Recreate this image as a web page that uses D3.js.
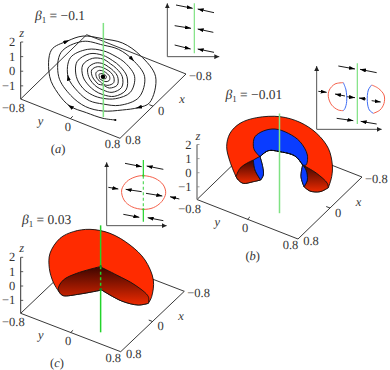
<!DOCTYPE html>
<html>
<head>
<meta charset="utf-8">
<script src="https://cdnjs.cloudflare.com/ajax/libs/d3/7.8.5/d3.min.js"></script>
<style>
  html, body { margin: 0; background: #fff; }
  svg { display: block; }
  svg text { font-family: "Liberation Serif", serif; font-size: 12.5px; fill: #333; text-rendering: geometricPrecision; }
  svg text .it, svg text.it { font-style: italic; }
</style>
</head>
<body>
<svg width="390" height="370"></svg>
<script>
// axis labels
const zTicks = [2, 1, 0, -1];
const edgeTicks = [-0.8, 0, 0.8];

// the three panels: floor corners in pixels, z range, title
const panels = [
    { title: "0.1", negative: true, tag: "a", left: [20.7, 99], bottom: [120, 138.3], right: [186, 74],
      zFloor: -1.9, zHeight: 57, axisColor: "#333", axisWidth: 1, titleAt: [35, 20], tagAt: [58, 153] },
    { title: "0.01", negative: true, tag: "b", left: [197, 199.5], bottom: [298, 239], right: [362, 177],
      zFloor: -1.9, zHeight: 55, axisColor: "#888", axisWidth: 1.5, titleAt: [225.5, 99], tagAt: [252.7, 260] },
    { title: "0.03", negative: false, tag: "c", left: [20.7, 313.3], bottom: [120.7, 351.7], right: [184.3, 291.3],
      zFloor: -1.9, zHeight: 56, axisColor: "#333", axisWidth: 1, titleAt: [22, 224], tagAt: [57, 367] }
];

// spiral of panel a, relative to its centre
const spiral = [
    [37,-130],[0,-125],[-50,-108],[-100,-88],[-135,-50],[-160,0],[-155,80],[-107,107],[-60,122],[0,114],
    [59,101],[112,64],[158,0],[140,-78],[105,-93],[58,-100],[0,-103],[-52,-90],[-97,-56],[-133,0],
    [-126,73],[-61,106],[0,95],[47,82],[89,51],[125,0],[108,-62],[50,-86],[0,-82],[-41,-72],[-76,-44],[-105,0],
    [-98,57],[-47,82],[0,78],[36,62],[68,40],[95,0],[82,-47],[38,-66],[0,-65],[-32,-55],[-60,-35],[-80,0],
    [-78,45],[-40,69],[0,64],[28,49],[52,30],[72,0],[69,-40],[34,-59],[0,-54],[-25,-42],[-44,-25],[-60,0],
    [-61,35],[-32,55],[0,53],[22,39],[41,24],[58,0],[56,-32],[27,-47],[0,-40],[-18,-31],[-32,-18],[-43,0],
    [-45,26],[-23,41],[0,39],[17,29],[31,18],[44,0],[43,-25],[19,-34],[0,-25],[-13,-23],[-23,-13],[-32,0],
    [-34,20],[-17,30],[0,27],[12,21],[23,13],[32,0],[32,-18],[15,-26],[0,-22],[-8,-15],[-15,-9],[-20,0],
    [-21,12],[-11,19],[0,17],[8,13],[14,8],[20,0],[19,-11],[9,-15],[0,-12],[-6,-9],[-10,-6],[-11,0],
    [-12,7],[0,9],[8,4],[10,0],[8,-6],[0,-5],[-5,0],[0,3],[3,0],[0,0]
];
const spiralArrows = [3, 7, 14, 24, 31];

// surface outlines of panel b
const bOuter = [[48,215],[30,170],[20,125],[30,85],[60,55],[110,38],[180,35],[240,52],[290,85],[325,130],[337,180],[335,215],[325,248]];
const bRightFoot = [[325,248],[300,260],[270,258],[252,245]];
const bRightInner = [[252,245],[243,215],[248,180]];
const bArch = [[248,180],[225,153],[180,140],[145,137],[120,155]];
const bLeftInner = [[120,155],[128,185],[130,210],[122,225]];
const bLeftFoot = [[122,225],[100,230],[70,235],[55,225],[48,215]];
const bBlueTop = [[120,155],[103,135],[100,115],[105,95],[130,78],[165,72],[205,85],[240,110],[262,150],[258,180],[248,180]];
const bLeftCapTop = [[48,215],[60,190],[80,175],[100,165]];
const bLeftCapSide = [[100,165],[105,195],[122,225]];
const bRightCapTop = [[248,180],[290,205],[322,235],[325,248]];
const bRightCapSide = [[252,245],[262,225],[258,195],[248,180]];
const bLeftBlueTop = [[100,165],[118,155]];

// surface outlines of panel c
const cOuter = [[60,205],[40,172],[28,130],[30,85],[60,40],[100,20],[150,13],[210,25],[270,60],[315,105],[340,165],[335,215],[325,235]];
const cFoot = [[325,235],[295,240],[245,228],[185,195]];
const cFootLeft = [[185,195],[120,207],[70,212],[60,205]];
const cCapLeft = [[60,205],[55,190],[70,165],[110,145],[180,125]];
const cCapRight = [[180,125],[230,150],[285,180],[325,215],[325,235]];

// phase portrait insets: arrows as from x, from y, to x, to y
const insetAArrows = [[48,15,98,25],[44,77,93,85],[44,135,92,147],[162,38,113,27],[160,97,113,87],[162,157,113,147]];
const insetBArrows = [[85,18,135,27],[200,38,150,28],[25,94,50,97],[110,110,135,113],[105,108,75,102],[168,117,147,114],[185,122,212,126],[80,175,130,182],[200,192,152,184]];
const insetCArrows = [[75,25,125,35],[190,43,140,33],[25,97,55,102],[125,110,77,103],[138,115,187,123],[238,132,210,125],[70,178,118,187],[190,197,143,188]];
const insetBLeftRed = [[100,68],[75,72],[58,90],[55,110],[65,135],[85,150],[100,152]];
const insetBLeftBlue = [[100,68],[108,90],[110,125],[105,145],[100,152]];
const insetBRightBlue = [[185,75],[175,90],[172,125],[178,150],[190,160]];
const insetBRightRed = [[185,75],[205,85],[222,105],[222,130],[210,150],[190,160]];
const insetCRed = [[130,62],[165,70],[190,90],[197,115],[185,140],[160,158],[130,163],[95,155],[72,135],[65,105],[80,80],[105,66]];

const svg = d3.select("svg");
const defs = svg.append("defs");

const red = "#ff2b00";
const blue = "#0a3cff";
const paleGreen = "#7fe283";
const strongGreen = "#22d32a";

function arrowMarker(id, color, w, h) {
    defs.append("marker")
        .attr("id", id)
        .attr("markerUnits", "userSpaceOnUse")
        .attr("markerWidth", w).attr("markerHeight", h)
        .attr("refX", w).attr("refY", h / 2)
        .attr("orient", "auto-start-reverse")
        .append("path")
        .attr("d", `M0,0L${w},${h / 2}L0,${h}Z`)
        .attr("fill", color);
}
arrowMarker("head", "#000", 6, 4);
arrowMarker("axisHead", "#222", 5, 5);

const capGradient = defs.append("linearGradient")
    .attr("id", "cap").attr("x1", 0).attr("y1", 0).attr("x2", 0).attr("y2", 1);
capGradient.append("stop").attr("offset", 0).attr("stop-color", "#3d0500");
capGradient.append("stop").attr("offset", 1).attr("stop-color", "#ee2a00");

// floor projection for one panel, built from plain linear scales
function makeProjection(p) {
    const ext = [-0.8, 0.8];
    const xH = d3.scaleLinear().domain(ext).range([p.right[0] - p.bottom[0], 0]);
    const xV = d3.scaleLinear().domain(ext).range([p.right[1] - p.bottom[1], 0]);
    const yH = d3.scaleLinear().domain(ext).range([p.left[0] - p.bottom[0], 0]);
    const yV = d3.scaleLinear().domain(ext).range([p.left[1] - p.bottom[1], 0]);
    const zV = d3.scaleLinear().domain([p.zFloor, 2]).range([0, -p.zHeight]);
    return (x, y, z) => [p.bottom[0] + xH(x) + yH(y), p.bottom[1] + xV(x) + yV(y) + zV(z)];
}

// sketch units: three to the pixel, measured from a crop corner
function sketchScales(ox, oy) {
    return {
        u: d3.scaleLinear().domain([0, 300]).range([ox, ox + 100]),
        v: d3.scaleLinear().domain([0, 300]).range([oy, oy + 100])
    };
}

function smoothPath(segments, s, closed) {
    const line = d3.line().x(d => s.u(d[0])).y(d => s.v(d[1])).curve(d3.curveCatmullRom.alpha(0.5));
    const d = segments.map((seg, i) => {
        const part = line(seg);
        return i === 0 ? part : "L" + part.slice(1);
    }).join("");
    return closed ? d + "Z" : d;
}

function drawFloor(p, proj) {
    const f = p.zFloor;
    const corners = [[-0.8, -0.8], [-0.8, 0.8], [0.8, 0.8], [0.8, -0.8]];
    svg.append("path")
        .attr("d", d3.line()(corners.map(c => proj(c[0], c[1], f))) + "Z")
        .attr("fill", "none").attr("stroke", "#222").attr("stroke-width", 0.9);
    // centre ticks on the two front edges
    [[proj(0.8, 0, f), proj(0.74, 0, f)], [proj(0, 0.8, f), proj(0, 0.74, f)]].forEach(t => {
        svg.append("line")
            .attr("x1", t[0][0]).attr("y1", t[0][1]).attr("x2", t[1][0]).attr("y2", t[1][1])
            .attr("stroke", "#222").attr("stroke-width", 0.9);
    });
}

function drawLabels(p, proj) {
    const f = p.zFloor;
    const base = proj(0.8, -0.8, f);
    const axisTop = proj(0.8, -0.8, 2);
    svg.append("line")
        .attr("x1", base[0]).attr("y1", base[1]).attr("x2", axisTop[0]).attr("y2", axisTop[1])
        .attr("stroke", p.axisColor).attr("stroke-width", p.axisWidth);

    zTicks.forEach(t => {
        const at = proj(0.8, -0.8, t);
        svg.append("line").attr("x1", at[0]).attr("x2", at[0] + 2.5).attr("y1", at[1]).attr("y2", at[1])
            .attr("stroke", p.axisColor).attr("stroke-width", 0.8);
        svg.append("text").attr("x", at[0] - 5.5).attr("y", at[1] + 4).attr("text-anchor", "end")
            .text(t < 0 ? "\u2212" + Math.abs(t) : t);
    });
    svg.append("text").attr("class", "it").attr("x", axisTop[0] + 1).attr("y", axisTop[1] - 5)
        .attr("text-anchor", "middle").text("z");

    const fmt = t => (t < 0 ? "\u2212" : "") + Math.abs(t);

    // y axis labels, along the left front edge
    edgeTicks.forEach(t => {
        const at = proj(0.8, t, f);
        const tx = t === -0.8 ? at[0] + 4 : t === 0 ? at[0] - 2.5 : at[0] - 7.5;
        const ty = t === -0.8 ? at[1] + 13 : t === 0 ? at[1] + 12.5 : at[1] + 10;
        svg.append("text").attr("x", tx).attr("y", ty)
            .attr("text-anchor", t === -0.8 ? "end" : "middle").text(fmt(t));
    });
    // x axis labels, along the right front edge
    edgeTicks.forEach(t => {
        const at = proj(t, 0.8, f);
        const tx = t === -0.8 ? at[0] + 3 : t === 0 ? at[0] + 8 : at[0] + 13;
        const ty = t === -0.8 ? at[1] + 6 : t === 0 ? at[1] + 8.5 : at[1] + 6;
        svg.append("text").attr("x", tx).attr("y", ty)
            .attr("text-anchor", t === -0.8 ? "start" : "middle").text(fmt(t));
    });
    const yAt = proj(0.8, -0.39, f);
    svg.append("text").attr("class", "it").attr("x", yAt[0] - 5.5).attr("y", yAt[1] + 16)
        .attr("text-anchor", "middle").text("y");
    const xAt = proj(-0.39, 0.8, f);
    svg.append("text").attr("class", "it").attr("x", xAt[0] + 13).attr("y", xAt[1] + 13)
        .attr("text-anchor", "middle").text("x");

    const title = svg.append("text").attr("x", p.titleAt[0]).attr("y", p.titleAt[1]).style("font-size", "13.5px");
    title.append("tspan").attr("class", "it").text("\u03b2");
    title.append("tspan").attr("dy", 3).style("font-size", "9px").text("1");
    title.append("tspan").attr("dy", -3).text(" = " + (p.negative ? "\u2212" : "") + p.title);

    const tag = svg.append("text").attr("x", p.tagAt[0]).attr("y", p.tagAt[1]).attr("text-anchor", "middle");
    tag.append("tspan").text("(");
    tag.append("tspan").attr("class", "it").text(p.tag);
    tag.append("tspan").text(")");
}

function drawGreen(proj, at, zTop, zBottom, color, dashFrom, dashTo) {
    const pieces = dashFrom === undefined ? [[zTop, zBottom, null]]
        : [[zTop, dashFrom, null], [dashFrom, dashTo, "3,2.5"], [dashTo, zBottom, null]];
    pieces.forEach(q => {
        const a = proj(at[0], at[1], q[0]);
        const b = proj(at[0], at[1], q[1]);
        svg.append("line")
            .attr("x1", a[0]).attr("y1", a[1]).attr("x2", b[0]).attr("y2", b[1])
            .attr("stroke", color).attr("stroke-width", 1.5)
            .attr("stroke-dasharray", q[2]);
    });
}

function drawInset(s, topV, cornerU, cornerV, endU, arrows, green) {
    svg.append("path")
        .attr("d", d3.line()([[s.u(cornerU), s.v(topV)], [s.u(cornerU), s.v(cornerV)], [s.u(endU), s.v(cornerV)]]))
        .attr("fill", "none").attr("stroke", "#555").attr("stroke-width", 1)
        .attr("marker-start", "url(#axisHead)").attr("marker-end", "url(#axisHead)");

    green.forEach(g => {
        svg.append("line")
            .attr("x1", s.u(g.u)).attr("x2", s.u(g.u)).attr("y1", s.v(g.from)).attr("y2", s.v(g.to))
            .attr("stroke", g.color).attr("stroke-width", 1.2)
            .attr("stroke-dasharray", g.dash || null);
    });

    svg.selectAll(null).data(arrows).enter().append("line")
        .attr("x1", d => s.u(d[0])).attr("y1", d => s.v(d[1]))
        .attr("x2", d => s.u(d[2])).attr("y2", d => s.v(d[3]))
        .attr("stroke", "#000").attr("stroke-width", 0.9)
        .attr("marker-end", "url(#head)");
}

function drawCurve(points, s, color, closed) {
    svg.append("path")
        .attr("d", d3.line().x(d => s.u(d[0])).y(d => s.v(d[1]))
            .curve(closed ? d3.curveCatmullRomClosed.alpha(0.5) : d3.curveCatmullRom.alpha(0.5))(points))
        .attr("fill", "none").attr("stroke", color).attr("stroke-width", 1);
}

function shape(d, fill) {
    svg.append("path").attr("d", d).attr("fill", fill)
        .attr("stroke", "#111").attr("stroke-width", 0.9).attr("stroke-linejoin", "round");
}

// panel a
const projA = makeProjection(panels[0]);
drawFloor(panels[0], projA);

const spiralCentre = [103, 76.7];
const spiralU = d3.scaleLinear().domain([-100, 100]).range([spiralCentre[0] - 33.3, spiralCentre[0] + 33.3]);
const spiralV = d3.scaleLinear().domain([-100, 100]).range([spiralCentre[1] + 33.3, spiralCentre[1] - 33.3]);
svg.append("path")
    .attr("d", d3.line().x(d => spiralU(d[0])).y(d => spiralV(d[1])).curve(d3.curveCatmullRom.alpha(0.5))(spiral))
    .attr("fill", "none").attr("stroke", "#222").attr("stroke-width", 1);
drawGreen(projA, [0, 0], 2.45, -3.99, paleGreen);
spiralArrows.forEach(i => {
    const a = [spiralU(spiral[i - 1][0]), spiralV(spiral[i - 1][1])];
    const b = [spiralU(spiral[i + 1][0]), spiralV(spiral[i + 1][1])];
    const at = [spiralU(spiral[i][0]), spiralV(spiral[i][1])];
    const len = Math.hypot(b[0] - a[0], b[1] - a[1]);
    svg.append("line")
        .attr("x1", at[0]).attr("y1", at[1])
        .attr("x2", at[0] + (b[0] - a[0]) / len * 2).attr("y2", at[1] + (b[1] - a[1]) / len * 2)
        .attr("stroke", "#222").attr("stroke-width", 0.5).attr("marker-end", "url(#head)");
});
svg.append("circle").attr("cx", spiralU(spiral[0][0])).attr("cy", spiralV(spiral[0][1])).attr("r", 1.1).attr("fill", "#000");
svg.append("circle").attr("cx", spiralCentre[0]).attr("cy", spiralCentre[1]).attr("r", 2.2).attr("fill", "#000");
drawLabels(panels[0], projA);

drawInset(sketchScales(160, 0), 10, 22, 170, 178, insetAArrows,
    [{ u: 103, from: 10, to: 160, color: paleGreen }]);

// panel b
const projB = makeProjection(panels[1]);
drawFloor(panels[1], projB);
const bSketch = sketchScales(220, 105);
shape(smoothPath([bOuter, bRightFoot, bRightInner, bArch, bLeftInner, bLeftFoot], bSketch, true), red);
shape(smoothPath([bLeftCapTop, bLeftCapSide, bLeftFoot.slice(0)], bSketch, true), "url(#cap)");
shape(smoothPath([bRightCapTop, bRightFoot, bRightCapSide], bSketch, true), "url(#cap)");
shape(smoothPath([bBlueTop, bArch], bSketch, true), blue);
shape(smoothPath([bLeftBlueTop, bLeftInner, bLeftCapSide.slice().reverse()], bSketch, true), blue);
shape(smoothPath([bRightCapSide.slice().reverse(), bRightInner], bSketch, true), blue);
svg.append("path").attr("d", smoothPath([bArch], bSketch, false))
    .attr("fill", "none").attr("stroke", "#000").attr("stroke-width", 1).attr("stroke-dasharray", "2,1.2");
drawGreen(projB, [0, 0], 3.4, -3.67, paleGreen);
drawLabels(panels[1], projB);

const bInset = sketchScales(310, 60);
drawInset(bInset, 18, 20, 208, 215, insetBArrows,
    [{ u: 142, from: 10, to: 192, color: paleGreen }]);
drawCurve(insetBLeftRed, bInset, "#f5604a");
drawCurve(insetBLeftBlue, bInset, "#3d6cf5");
drawCurve(insetBRightBlue, bInset, "#3d6cf5");
drawCurve(insetBRightRed, bInset, "#f5604a");

// panel c
const projC = makeProjection(panels[2]);
drawFloor(panels[2], projC);
const cSketch = sketchScales(40, 225);
shape(smoothPath([cOuter, cFoot, cFootLeft], cSketch, true), red);
shape(smoothPath([cCapLeft, cCapRight, cFoot, cFootLeft], cSketch, true), "url(#cap)");
drawGreen(projC, [0, -0.03], 3.41, -4.04, strongGreen, 0.56, -1.04);
[0.56, -1.04].forEach(z => {
    const at = projC(0, -0.03, z);
    svg.append("circle").attr("cx", at[0]).attr("cy", at[1]).attr("r", 1.2).attr("fill", "#11802a");
});
drawLabels(panels[2], projC);

const cInset = sketchScales(100, 155);
drawInset(cInset, 22, 20, 212, 200, insetCArrows, [
    { u: 130, from: 15, to: 62, color: strongGreen },
    { u: 130, from: 62, to: 163, color: "#55d85a", dash: "3,2.5" },
    { u: 130, from: 163, to: 200, color: strongGreen }
]);
drawCurve(insetCRed, cInset, "#f5604a", true);
[62, 163].forEach(v => {
    svg.append("circle").attr("cx", cInset.u(130)).attr("cy", cInset.v(v)).attr("r", 1.1).attr("fill", strongGreen);
});
</script>
</body>
</html>
